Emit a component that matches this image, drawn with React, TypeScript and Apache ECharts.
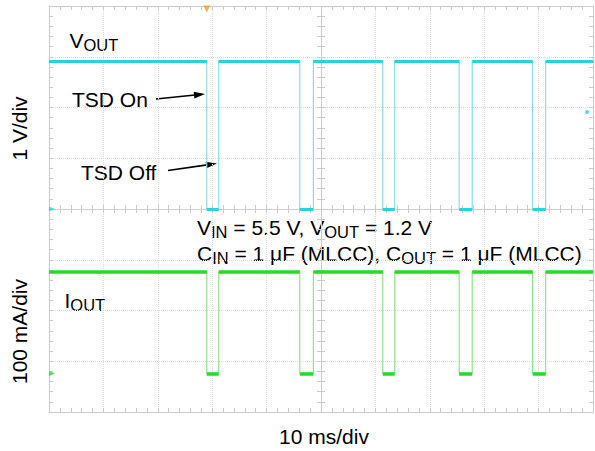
import React, { useEffect, useRef } from 'react';
import * as echarts from 'echarts';

// time in ms relative to screen centre (10 ms/div), amplitude in divisions
const timeRange = [-50, 50];
const divRange = [-4, 4];
const fallTimes = [-21.0, -3.9, 11.35, 25.4, 38.9];
const riseTimes = [-18.8, -1.4, 13.55, 27.8, 41.3];
const voutLevels = [2.92, 0]; // high, low
const ioutLevels = [-1.235, -3.24]; // high, low
const trigLevelPoint = [48.9, 1.91];

const FONT = 'Liberation Sans, Arial, Helvetica, sans-serif';
const CYAN = '#27d3e1';
const CYAN_EDGE = '#86dfe8';
const GREEN = '#25dc25';
const GREEN_EDGE = '#8fe48f';
const TICK = '#cbcbcb';

function buildWave(high: number, low: number) {
  const pts: number[][] = [[timeRange[0], high]];
  fallTimes.forEach((f, i) => {
    pts.push([f, high], [f, low], [riseTimes[i], low], [riseTimes[i], high]);
  });
  pts.push([timeRange[1], high]);
  return pts;
}

function buildFlats(high: number, low: number) {
  const segs: any[] = [];
  let start = timeRange[0];
  fallTimes.forEach((f, i) => {
    segs.push({ coords: [[start, high], [f, high]] });
    segs.push({ coords: [[f, low], [riseTimes[i], low]] });
    start = riseTimes[i];
  });
  segs.push({ coords: [[start, high], [timeRange[1], high]] });
  return segs;
}

function arrow(x1: number, y1: number, x2: number, y2: number) {
  const dx = x2 - x1, dy = y2 - y1;
  const L = Math.hypot(dx, dy);
  const ux = dx / L, uy = dy / L;
  const hl = 11, hw = 3.3;
  const bx = x2 - ux * hl, by = y2 - uy * hl;
  return [
    { type: 'line', shape: { x1, y1, x2: bx + ux, y2: by + uy }, style: { stroke: '#000', lineWidth: 1.6 } },
    {
      type: 'polygon',
      shape: { points: [[x2, y2], [bx - uy * hw, by + ux * hw], [bx + uy * hw, by - ux * hw]] },
      style: { fill: '#000' },
    },
  ];
}

function makeAxis(kind: 'x' | 'y', position: string, onZero: boolean, inside: boolean, split: boolean, dotted: boolean) {
  const range = kind === 'x' ? timeRange : divRange;
  return {
    type: 'value',
    position,
    min: range[0],
    max: range[1],
    interval: kind === 'x' ? 10 : 1,
    axisLabel: { show: false },
    splitLine: { show: split, lineStyle: { color: '#dcdcdc', type: 'dotted', width: 1 } },
    axisTick: { show: true, inside, length: 4, lineStyle: { color: TICK } },
    minorTick: { show: true, splitNumber: 5, length: 4, lineStyle: { color: TICK } },
    axisLine: { show: true, onZero, lineStyle: { color: TICK, type: dotted ? 'dotted' : 'solid' } },
  };
}

const subRich = {
  n: { fontSize: 21, lineHeight: 26, fontFamily: FONT, color: '#000' },
  s: { fontSize: 16.5, lineHeight: 16, verticalAlign: 'bottom', fontFamily: FONT, color: '#000' },
};

function richText(x: number, y: number, text: string) {
  return {
    type: 'text',
    x,
    y,
    style: { text, rich: subRich, align: 'left', verticalAlign: 'top', fill: '#000', font: `21px ${FONT}` },
  };
}

function plainText(x: number, y: number, text: string, align = 'left', rotation = 0) {
  return {
    type: 'text',
    x,
    y,
    rotation,
    style: { text, fill: '#000', fontSize: 21, fontFamily: FONT, align, verticalAlign: 'middle' },
  };
}

const RIGHT_TRI = 'path://M0,0L10,5L0,10Z';

export default function App() {
  const ref = useRef<HTMLDivElement>(null);
  useEffect(() => {
    if (!ref.current) return;
    const chart = echarts.init(ref.current, undefined, { renderer: 'svg' });
    const option: any = {
      animation: false,
      backgroundColor: '#fff',
      grid: { left: 49, right: 2, top: 6, bottom: 39 },
      xAxis: [
        makeAxis('x', 'bottom', false, true, true, false),
        makeAxis('x', 'top', false, true, false, false),
        makeAxis('x', 'bottom', true, true, false, true),
        makeAxis('x', 'bottom', true, false, false, true),
      ],
      yAxis: [
        makeAxis('y', 'left', false, true, true, false),
        makeAxis('y', 'right', false, true, false, false),
        makeAxis('y', 'left', true, true, false, true),
        makeAxis('y', 'left', true, false, false, true),
      ],
      series: [
        {
          type: 'line',
          data: buildWave(voutLevels[0], voutLevels[1]),
          showSymbol: false,
          lineStyle: { color: CYAN_EDGE, width: 1.2 },
          z: 3,
        },
        {
          type: 'lines',
          coordinateSystem: 'cartesian2d',
          data: buildFlats(voutLevels[0], voutLevels[1]),
          lineStyle: { color: CYAN, width: 3, opacity: 1 },
          z: 4,
        },
        {
          type: 'line',
          data: buildWave(ioutLevels[0], ioutLevels[1]),
          showSymbol: false,
          lineStyle: { color: GREEN_EDGE, width: 1.2 },
          z: 3,
        },
        {
          type: 'lines',
          coordinateSystem: 'cartesian2d',
          data: buildFlats(ioutLevels[0], ioutLevels[1]),
          lineStyle: { color: GREEN, width: 3.5, opacity: 1 },
          z: 4,
        },
        {
          type: 'scatter',
          clip: false,
          silent: true,
          z: 5,
          data: [
            { value: [timeRange[0], voutLevels[1]], itemStyle: { color: CYAN } },
            { value: [timeRange[0], ioutLevels[1]], itemStyle: { color: GREEN } },
          ],
          symbol: RIGHT_TRI,
          symbolSize: [6, 5],
          symbolOffset: [3, 0],
        },
        {
          type: 'scatter',
          clip: false,
          silent: true,
          z: 5,
          data: [{ value: [fallTimes[0], divRange[1]] }],
          itemStyle: { color: '#f0a21c' },
          symbol: 'triangle',
          symbolRotate: 180,
          symbolSize: [7, 7],
          symbolOffset: [0, 3],
        },
        {
          type: 'scatter',
          clip: false,
          silent: true,
          z: 5,
          data: [{ value: trigLevelPoint }],
          itemStyle: { color: CYAN },
          symbol: 'circle',
          symbolSize: 4,
        },
      ],
      graphic: [
        richText(69.5, 27.7, '{n|V}{s|OUT}'),
        richText(64.5, 287.5, '{n|I}{s|OUT}'),
        plainText(72, 99, 'TSD On'),
        plainText(81, 172, 'TSD Off'),
        ...arrow(156, 99, 205, 94),
        ...arrow(168, 170.5, 217, 163.5),
        richText(197, 214.5, '{n|V}{s|IN}{n| = 5.5 V, V}{s|OUT}{n| = 1.2 V}'),
        richText(197, 240.5, '{n|C}{s|IN}{n| = 1 μF (MLCC), C}{s|OUT}{n| = 1 μF (MLCC)}'),
        plainText(19, 128.5, '1 V/div', 'center', Math.PI / 2),
        plainText(19, 331.5, '100 mA/div', 'center', Math.PI / 2),
        plainText(324, 436.7, '10 ms/div', 'center'),
      ],
    };
    chart.setOption(option);
    return () => chart.dispose();
  }, []);
  return (
    <div
      ref={ref}
      style={{ position: 'fixed', left: 0, top: 0, width: 595, height: 451, background: '#fff' }}
    />
  );
}
